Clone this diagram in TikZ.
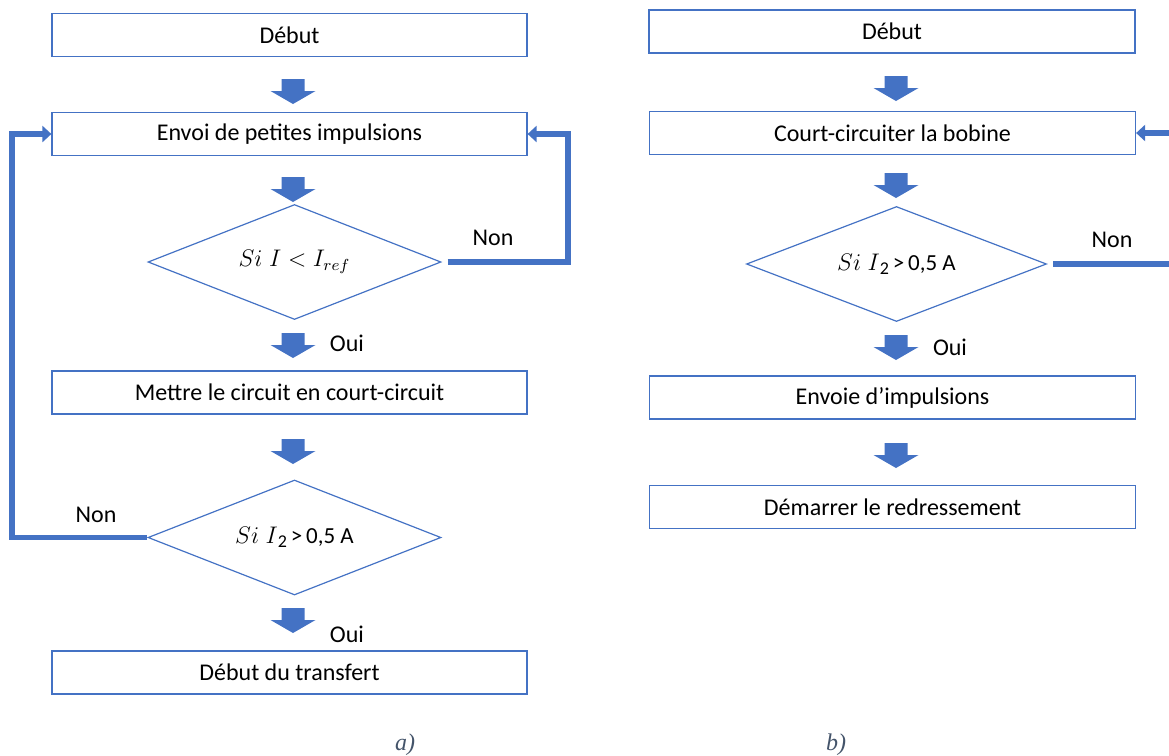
\documentclass[tikz,border=0pt]{standalone}
\usepackage{fontspec}
\setmainfont{Carlito}
\newfontfamily\capfont{Liberation Serif}
\usetikzlibrary{shapes.geometric,arrows.meta}

\definecolor{arrowblue}{RGB}{68,114,196}
\definecolor{capgray}{RGB}{68,84,106}

\tikzset{
  stepbox/.style={draw=arrowblue, line width=0.6pt, minimum width=237.5pt,
    minimum height=21.5pt, inner sep=0pt, font=\fontsize{12}{14}\selectfont},
  testbox/.style={diamond, draw=arrowblue, line width=0.6pt, aspect=2.55,
    minimum width=146.5pt, minimum height=57.5pt, inner sep=0pt,
    font=\fontsize{11.5}{14}\selectfont},
  lbl/.style={font=\fontsize{12}{14}\selectfont, inner sep=0pt},
  loopline/.style={draw=arrowblue, line width=2.8pt},
  looparrow/.style={loopline, -{Triangle[length=4.5pt,width=8pt]}},
  captxt/.style={font=\capfont\itshape\fontsize{12}{14}\selectfont, text=capgray},
  blkarrow/.pic={
    \fill[arrowblue] (-11.5,-12) -- (11.5,-12) -- (11.5,0) -- (22.5,0)
      -- (0,13) -- (-22.5,0) -- (-11.5,0) -- cycle;
  }
}

\begin{document}
\begin{tikzpicture}[x=0.5pt,y=-0.5pt]
\useasboundingbox (0,0) rectangle (1169,756);

% a) premier organigramme
\node[stepbox] (deb1) at (289.5,35) {Début};
\node[stepbox] (envoi) at (289.5,134) {Envoi de petites impulsions};
\node[testbox] (test1) at (294.5,262) {$Si\;I<I_{ref}$};
\node[stepbox] (mettre) at (289.5,392.5) {Mettre le circuit en court-circuit};
\node[testbox] (test2) at (294.5,537.5) {$Si\;I$\raisebox{-0.35ex}{\small 2}\,>\,0,5 A};
\node[stepbox] (transfert) at (289.5,672.5) {Début du transfert};

\pic at (293,91) {blkarrow};
\pic at (293,189) {blkarrow};
\pic at (293,345) {blkarrow};
\pic at (293,451) {blkarrow};
\pic at (293,620) {blkarrow};

\node[lbl] (oui1) at (347,343) {Oui};
\node[lbl] (oui2) at (347,634) {Oui};
\node[lbl] (non1) at (493,238) {Non};
\node[lbl] (non2) at (96,515) {Non};

\coordinate (rloop) at (568,0);
\coordinate (lloop) at (12,0);
\draw[looparrow, shorten <=3pt] (test1.east) -- (test1.east -| rloop) |- (envoi.east);
\draw[looparrow] (test2.west) -- (test2.west -| lloop) |- (envoi.west);

% b) second organigramme
\node[stepbox, minimum width=243pt] (deb2) at (892,31.5) {Début};
\node[stepbox, minimum width=243pt] (court) at (892.5,133) {Court-circuiter la bobine};
\node[testbox, minimum width=150pt] (test3) at (896.5,264) {$Si\;I$\raisebox{-0.35ex}{\small 2}\,>\,0,5 A};
\node[stepbox, minimum width=243pt] (envoie) at (892.5,397.5) {Envoie d’impulsions};
\node[stepbox, minimum width=243pt] (redress) at (892.5,507) {Démarrer le redressement};

\pic at (896,88) {blkarrow};
\pic at (896,185) {blkarrow};
\pic at (896,347) {blkarrow};
\pic at (896,455) {blkarrow};

\node[lbl] (oui3) at (950,347) {Oui};
\node[lbl] (non3) at (1112,240) {Non};

\coordinate (redge) at (1169,0);
\draw[loopline, shorten <=3pt] (test3.east) -- (test3.east -| redge);
\draw[looparrow] (court.east -| redge) -- (court.east);

% legendes
\node[captxt] (capa) at (405,745) {a)};
\node[captxt] (capb) at (836,745) {b)};
\end{tikzpicture}
\end{document}
